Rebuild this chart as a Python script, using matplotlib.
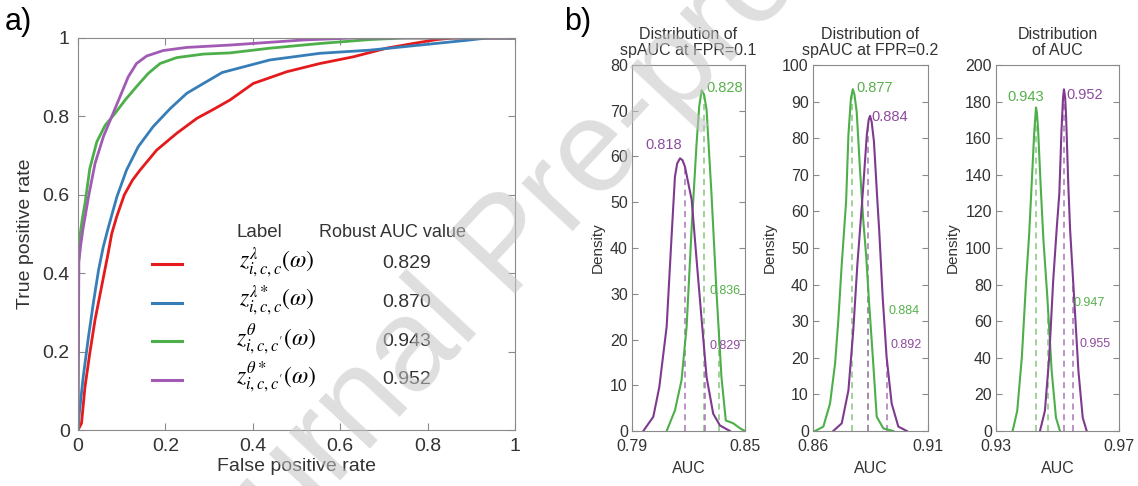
import numpy as np
import matplotlib
matplotlib.use("Agg")
import matplotlib.pyplot as plt

plt.rcParams['font.family'] = ['Liberation Sans', 'DejaVu Sans']
plt.rcParams['mathtext.fontset'] = 'stix'

# ---- ROC curves (panel a) ----
red_fpr = [0, 0.008, 0.016, 0.027, 0.039, 0.054, 0.069, 0.077, 0.0885, 0.106, 0.125, 0.142, 0.18,
           0.226, 0.272, 0.31, 0.348, 0.401, 0.478, 0.554, 0.63, 0.706, 0.767, 0.821, 0.859, 1.0]
red_tpr = [0, 0.017, 0.11, 0.196, 0.281, 0.366, 0.451, 0.5, 0.544, 0.6, 0.638, 0.663, 0.714,
           0.757, 0.795, 0.818, 0.842, 0.884, 0.914, 0.935, 0.952, 0.974, 0.986, 0.996, 1.0, 1.0]

blue_fpr = [0, 0.003, 0.012, 0.024, 0.035, 0.047, 0.058, 0.069, 0.089, 0.111, 0.138, 0.172,
            0.211, 0.249, 0.287, 0.33, 0.439, 0.554, 0.668, 0.783, 0.897, 0.935, 1.0]
blue_tpr = [0, 0.043, 0.136, 0.238, 0.323, 0.408, 0.468, 0.515, 0.595, 0.663, 0.723, 0.774,
            0.82, 0.859, 0.884, 0.912, 0.944, 0.961, 0.969, 0.982, 0.995, 1.0, 1.0]

green_fpr = [0, 0.001, 0.005, 0.01, 0.016, 0.027, 0.043, 0.062, 0.085, 0.108, 0.134, 0.161,
             0.188, 0.226, 0.287, 0.348, 0.439, 0.554, 0.668, 0.744, 1.0]
green_tpr = [0, 0.42, 0.5, 0.54, 0.578, 0.667, 0.735, 0.777, 0.808, 0.842, 0.876, 0.91,
             0.935, 0.95, 0.959, 0.962, 0.974, 0.986, 0.996, 1.0, 1.0]

purple_fpr = [0, 0.002, 0.006, 0.011, 0.024, 0.039, 0.058, 0.077, 0.096, 0.115, 0.134, 0.157,
              0.195, 0.249, 0.348, 0.516, 0.63, 1.0]
purple_tpr = [0, 0.43, 0.47, 0.51, 0.595, 0.68, 0.748, 0.799, 0.85, 0.901, 0.935, 0.954,
              0.968, 0.976, 0.982, 0.995, 1.0, 1.0]

roc_labels = [r'$z_{i,c,c}^{\lambda}\left(\omega\right)$',
              r'$z_{i,c,c}^{\lambda*}\left(\omega\right)$',
              r"$z_{i,c,c'}^{\theta}\left(\omega\right)$",
              r"$z_{i,c,c'}^{\theta*}\left(\omega\right)$"]
robust_auc = [0.829, 0.870, 0.943, 0.952]

# ---- density curves (panel b) ----
d1_purple_x = [0.796, 0.8013, 0.8045, 0.8084, 0.8111, 0.8128, 0.814, 0.8155, 0.8168, 0.8181,
               0.8217, 0.8243, 0.827, 0.8296, 0.8331, 0.8367, 0.842]
d1_purple_y = [0, 3.1, 9.6, 22.8, 43.2, 55.6, 58.5, 59.6, 59.2, 57.8,
               50.5, 37.4, 24.2, 11.8, 3.8, 1.2, 0]
d1_green_x = [0.8084, 0.8128, 0.8163, 0.819, 0.8217, 0.8243, 0.8257, 0.827, 0.8283, 0.8296,
              0.8322, 0.8349, 0.8375, 0.8398, 0.8437, 0.8473, 0.85]
d1_green_y = [0, 4.5, 11.1, 22.8, 44.6, 62.9, 71, 74.5, 73.5, 70.2,
              51.9, 30.1, 11.8, 2.3, 1.7, 0.6, 0]

d2_green_x = [0.8609, 0.8645, 0.8674, 0.8696, 0.871, 0.8725, 0.8735, 0.8744, 0.8754, 0.8765,
              0.8773, 0.878, 0.879, 0.8804, 0.8818, 0.8831, 0.8845, 0.8862, 0.8877, 0.8906, 0.8949]
d2_green_y = [0, 1.2, 7.5, 18.4, 30.2, 45.6, 54.6, 62.8, 80.9, 91,
              93.4, 92, 87.2, 71.8, 58, 48, 34, 18.4, 3.9, 0.7, 0]
d2_purple_x = [0.8688, 0.8725, 0.8754, 0.8775, 0.8793, 0.8804, 0.8819, 0.8834, 0.8842, 0.8848,
               0.8855, 0.8865, 0.888, 0.8888, 0.8903, 0.892, 0.8942, 0.8971, 0.9008]
d2_purple_y = [0, 2.1, 11.1, 27.4, 45.6, 54.6, 67.3, 80.9, 85, 86.1,
               84.5, 79.1, 62.8, 54.6, 36.5, 20.2, 7.5, 1.2, 0]

d3_green_x = [0.9354, 0.9369, 0.9384, 0.9398, 0.9408, 0.9416, 0.9424, 0.9428, 0.943, 0.9433,
              0.9437, 0.9445, 0.9454, 0.9467, 0.9481, 0.9495, 0.9508]
d3_green_y = [0, 11, 40.2, 82.2, 108, 135, 162, 172, 176.8, 174,
              164.4, 135, 105, 73, 32.9, 7.3, 0]
d3_purple_x = [0.9443, 0.9459, 0.9473, 0.9486, 0.9497, 0.9506, 0.9513, 0.9518, 0.9521, 0.9525,
               0.9528, 0.9535, 0.9541, 0.9554, 0.9568, 0.9582, 0.9595]
d3_purple_y = [0, 11, 40.2, 82.2, 109.6, 130, 164.4, 182, 186.7, 182,
               171.7, 135, 110, 73, 32.9, 7.3, 0]

# center and upper values marked with dashed lines: (green, purple)
d1_center = (0.828, 0.818)
d1_upper = (0.836, 0.829)
d2_center = (0.877, 0.884)
d2_upper = (0.884, 0.892)
d3_center = (0.943, 0.952)
d3_upper = (0.947, 0.955)

titles = ['Distribution of\nspAUC at FPR=0.1', 'Distribution of\nspAUC at FPR=0.2',
          'Distribution\nof AUC']
xlims = [(0.79, 0.85), (0.86, 0.91), (0.93, 0.97)]
xticklabels = [('0.79', '0.85'), ('0.86', '0.91'), ('0.93', '0.97')]
ymaxes = [80, 100, 200]
ysteps = [10, 10, 20]

# ---- colours ----
roc_colors = ['#E41A1C', '#377EB8', '#4DAF4A', '#A25BB4']
g_line, p_line = '#4DAF4A', '#7E3A8F'
g_text, p_text = '#55B04A', '#8E4A9E'
g_dash, p_dash = '#86C77A', '#A878B5'
spine_c = '#8a8a8a'
text_c = '#333333'

fig = plt.figure(figsize=(11.38, 4.86), dpi=100)

# ---------------- panel a ----------------
ax = fig.add_axes([78 / 1138, 56 / 486, 437 / 1138, 392 / 486])
for fpr, tpr, c in zip([red_fpr, blue_fpr, green_fpr, purple_fpr],
                       [red_tpr, blue_tpr, green_tpr, purple_tpr], roc_colors):
    ax.plot(fpr, tpr, color=c, lw=2.0, solid_joinstyle='round')
ax.set_xlim(0, 1)
ax.set_ylim(0, 1)
ticks = [0, 0.2, 0.4, 0.6, 0.8, 1]
ticklab = ['0', '0.2', '0.4', '0.6', '0.8', '1']
ax.set_xticks(ticks)
ax.set_xticklabels(ticklab)
ax.set_yticks(ticks)
ax.set_yticklabels(ticklab)
ax.tick_params(direction='in', top=True, right=True, length=5, color=spine_c,
               labelsize=14, labelcolor=text_c, pad=6)
for s in ax.spines.values():
    s.set_color(spine_c)
ax.set_xlabel('False positive rate', fontsize=14, color=text_c, labelpad=2)
ax.set_ylabel('True positive rate', fontsize=14, color=text_c, labelpad=6)

# legend table
ax.text(0.414, 0.503, 'Label', transform=ax.transAxes, fontsize=13.5, color=text_c,
        ha='center', va='center')
ax.text(0.72, 0.503, 'Robust AUC value', transform=ax.transAxes, fontsize=13,
        color=text_c, ha='center', va='center')
for k, (lab, val, c) in enumerate(zip(roc_labels, robust_auc, roc_colors)):
    yy = 0.4235 - k * 0.0985
    ax.plot([0.169, 0.237], [yy, yy], color=c, lw=2.2, transform=ax.transAxes)
    ax.text(0.455, yy + 0.005, lab, transform=ax.transAxes, fontsize=17, color='black',
            ha='center', va='center')
    ax.text(0.753, yy, f'{val:.3f}', transform=ax.transAxes, fontsize=14, color=text_c,
            ha='center', va='center')

# ---------------- panel b ----------------
panels = [
    (d1_green_x, d1_green_y, d1_purple_x, d1_purple_y, d1_center, d1_upper),
    (d2_green_x, d2_green_y, d2_purple_x, d2_purple_y, d2_center, d2_upper),
    (d3_green_x, d3_green_y, d3_purple_x, d3_purple_y, d3_center, d3_upper),
]
boxes = [[632 / 1138, 55 / 486, 113 / 1138, 366 / 486],
         [813 / 1138, 55 / 486, 115 / 1138, 366 / 486],
         [996 / 1138, 55 / 486, 123 / 1138, 366 / 486]]
# label anchors: (x, y, ha) for green peak, purple peak, green upper, purple upper
label_pos = [
    [(0.8293, 74.9, 'left'), (0.8164, 62.5, 'right'), (0.831, 30.6, 'left'), (0.831, 18.5, 'left')],
    [(0.8787, 93.8, 'left'), (0.8855, 85.9, 'left'), (0.8928, 32.9, 'left'), (0.8938, 23.6, 'left')],
    [(0.9397, 182.6, 'center'), (0.953, 183.6, 'left'), (0.9551, 69.8, 'left'), (0.9573, 47.8, 'left')],
]

for i, (gx, gy, px, py, cen, up) in enumerate(panels):
    bx = fig.add_axes(boxes[i])
    # dashed markers from zero up to the curve
    for v, xs, ys, c in [(cen[0], gx, gy, g_dash), (up[0], gx, gy, g_dash),
                         (cen[1], px, py, p_dash), (up[1], px, py, p_dash)]:
        bx.plot([v, v], [0, np.interp(v, xs, ys)], color=c, lw=1.1, ls=(0, (4, 3)))
    bx.plot(gx, gy, color=g_line, lw=1.5, solid_joinstyle='round')
    bx.plot(px, py, color=p_line, lw=1.5, solid_joinstyle='round')

    lp = label_pos[i]
    bx.text(lp[0][0], lp[0][1], f'{cen[0]:.3f}', color=g_text, fontsize=10.5,
            ha=lp[0][2], va='center')
    bx.text(lp[1][0], lp[1][1], f'{cen[1]:.3f}', color=p_text, fontsize=10.5,
            ha=lp[1][2], va='center')
    bx.text(lp[2][0], lp[2][1], f'{up[0]:.3f}', color=g_text, fontsize=9,
            ha=lp[2][2], va='center')
    bx.text(lp[3][0], lp[3][1], f'{up[1]:.3f}', color=p_text, fontsize=9,
            ha=lp[3][2], va='center')

    bx.set_xlim(*xlims[i])
    bx.set_ylim(0, ymaxes[i])
    bx.set_xticks(list(xlims[i]))
    bx.set_xticklabels(xticklabels[i])
    bx.set_yticks(np.arange(0, ymaxes[i] + 1, ysteps[i]))
    bx.tick_params(direction='in', right=True, length=4, color=spine_c,
                   labelsize=11.5, labelcolor=text_c, pad=3)
    bx.tick_params(axis='x', pad=6)
    for s in bx.spines.values():
        s.set_color(spine_c)
    bx.set_title(titles[i], fontsize=11.5, color=text_c, pad=7, linespacing=1.1)
    bx.set_xlabel('AUC', fontsize=11.5, color=text_c, labelpad=5)
    bx.set_ylabel('Density', fontsize=11, color=text_c, labelpad=4)

fig.text(0.004, 0.985, 'a)', fontsize=22, color='black', ha='left', va='top')
fig.text(0.496, 0.985, 'b)', fontsize=22, color='black', ha='left', va='top')

# watermark
fig.text(0.448, 0.49, 'Journal Pre-proof', fontsize=94, color='#c4c4c4', alpha=0.55,
         rotation=47, ha='center', va='center', zorder=20)

fig.savefig('out.png', dpi=100)
